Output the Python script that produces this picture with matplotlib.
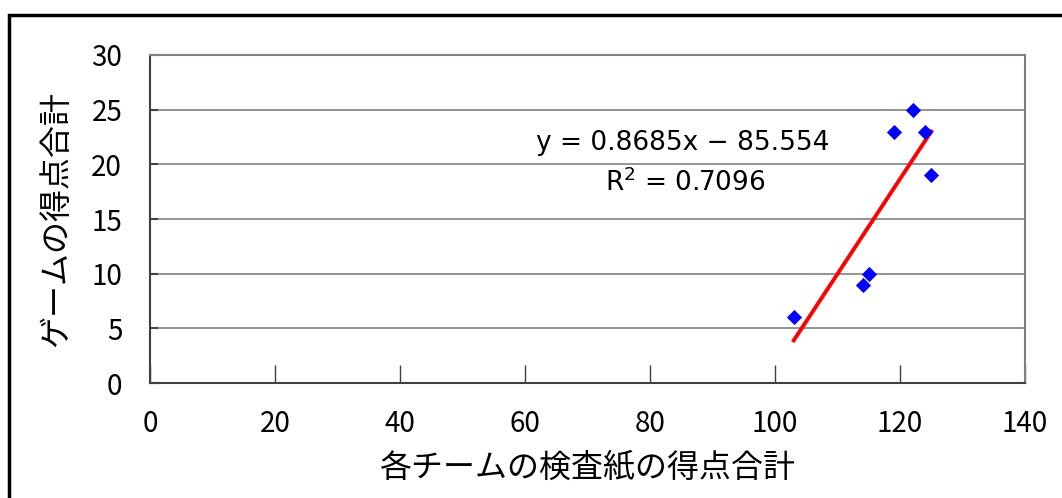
import numpy as np
import matplotlib.pyplot as plt
from matplotlib.patches import Rectangle

plt.rcParams['font.family'] = ['Noto Sans CJK JP', 'DejaVu Sans']

# checksheet totals per team vs. game score totals
sheet_total = [103, 114, 115, 119, 122, 124, 125]
game_total = [6, 9, 10, 23, 25, 23, 19]

x_ticks = [0, 20, 40, 60, 80, 100, 120, 140]
y_ticks = [0, 5, 10, 15, 20, 25, 30]

x = np.array(sheet_total, dtype=float)
y = np.array(game_total, dtype=float)
slope, icept = np.polyfit(x, y, 1)
r2 = np.corrcoef(x, y)[0, 1] ** 2

fig = plt.figure(figsize=(10.62, 4.98), dpi=100)
ax = fig.add_axes([150 / 1062, 1 - 383 / 498, 875 / 1062, 328 / 498])

# outer chart frame
fig.patches.append(Rectangle((9 / 1062, -0.2), 1.2, 1 - 15 / 498 + 0.2,
                             transform=fig.transFigure, fill=False,
                             edgecolor='black', linewidth=2.5))

for yt in y_ticks[1:]:
    ax.axhline(yt, color='#808080', linewidth=1.2, zorder=1)

ax.scatter(x, y, marker='D', s=60, color='#0000ff', zorder=3, linewidths=0)
xs = np.array([x.min(), x.max()])
ax.plot(xs, slope * xs + icept, color='#ff0000', linewidth=2.8, zorder=2)

# trendline equation
ax.text(85.3, 21.95, 'y = %.4fx − %.3f' % (slope, -icept), ha='center', va='center',
        fontsize=19, family='DejaVu Sans')
ax.text(85.6, 18.3, 'R$^2$ = %.4f' % r2, ha='center', va='center',
        fontsize=19, family='DejaVu Sans')

ax.set_xlim(0, 140)
ax.set_ylim(0, 30)
ax.set_xticks(x_ticks)
ax.set_yticks(y_ticks)
ax.tick_params(axis='x', direction='in', length=13, width=1, color='#404040',
               labelsize=20, pad=19)
ax.tick_params(axis='y', direction='in', length=6, width=1.5, color='#404040',
               labelsize=20, pad=20)
for side in ['left', 'bottom']:
    ax.spines[side].set_color('#404040')
    ax.spines[side].set_linewidth(1.5)
for side in ['top', 'right']:
    ax.spines[side].set_color('#808080')
    ax.spines[side].set_linewidth(1.5)

ax.set_xlabel('各チームの検査紙の得点合計', fontsize=23, labelpad=9)
ax.set_ylabel('ゲームの得点合計', fontsize=23, labelpad=14)

fig.savefig('out.png', dpi=100)
